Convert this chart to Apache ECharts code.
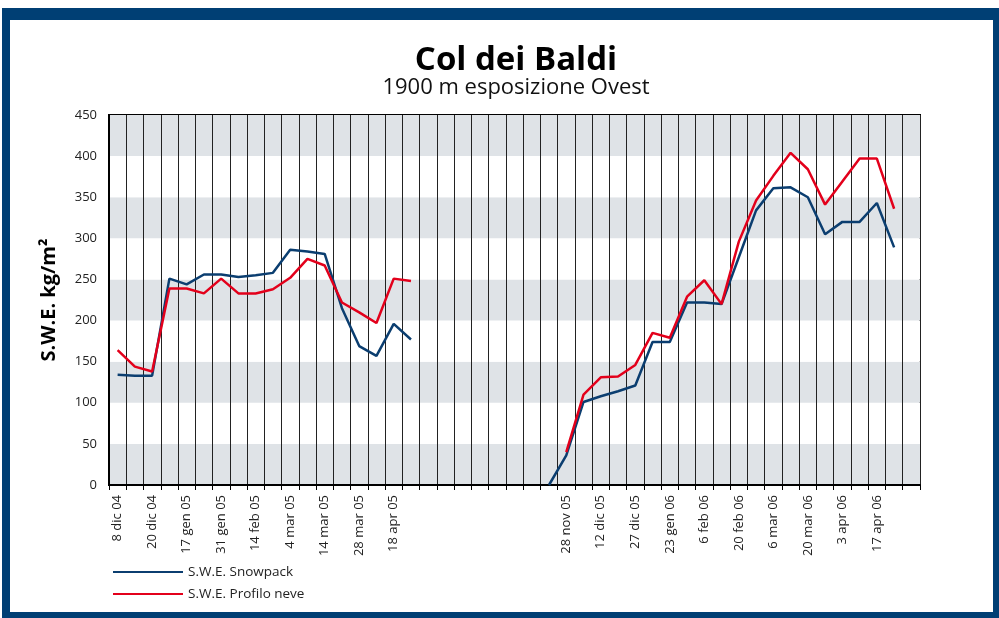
<!DOCTYPE html>
<html>
<head>
<meta charset="utf-8">
<script src="https://cdn.jsdelivr.net/npm/echarts@6/dist/echarts.min.js"></script>
<style>
  html, body { margin: 0; padding: 0; background: #fff; }
  #chart { width: 999px; height: 618px; }
</style>
</head>
<body>
<div id="chart"></div>
<script>
// etichette asse x (una ogni due rilievi)
const dateLabels = [
  '8 dic 04', '', '20 dic 04', '', '17 gen 05', '', '31 gen 05', '', '14 feb 05', '',
  '4 mar 05', '', '14 mar 05', '', '28 mar 05', '', '18 apr 05', '', '', '',
  '', '', '', '', '', '', '28 nov 05', '', '12 dic 05', '',
  '27 dic 05', '', '23 gen 06', '', '6 feb 06', '', '20 feb 06', '', '6 mar 06', '',
  '20 mar 06', '', '3 apr 06', '', '17 apr 06', '', ''
]

const sweSnowpack = [
  134, 133, 133, 251, 244, 256, 256, 253, 255, 258,
  286, 284, 281, 215, 169, 157, 196, 177, null, null,
  null, null, null, null, null, 0, 36, 101, 108, 114,
  121, 174, 174, 222, 222, 220, 277, 334, 361, 362,
  350, 305, 320, 320, 343, 289, null
]

const sweProfilo = [
  164, 144, 138, 239, 239, 233, 251, 233, 233, 238,
  252, 275, 267, 222, 210, 197, 251, 248, null, null,
  null, null, null, null, null, null, 40, 110, 131, 132,
  146, 185, 179, 229, 249, 220, 296, 346, 376, 404,
  384, 341, 369, 397, 397, 336, null
]

const yTicks = { min: 0, max: 450, interval: 50 }

const chart = echarts.init(document.getElementById('chart'))

const option = {
  backgroundColor: '#fff',
  animation: false,
  title: {
    text: 'Col dei Baldi',
    subtext: '1900 m esposizione Ovest',
    left: 511,
    top: 39,
    textAlign: 'center',
    itemGap: 0,
    textStyle: {
      fontFamily: 'Open Sans',
      fontSize: 33,
      fontWeight: 'bold',
      color: '#000'
    },
    subtextStyle: {
      fontFamily: 'Open Sans',
      fontSize: 22,
      color: '#111'
    }
  },
  // cornice blu
  graphic: [
    { type: 'rect', shape: { x: 2, y: 8, width: 997, height: 12 }, style: { fill: '#003f74' } },
    { type: 'rect', shape: { x: 2, y: 8, width: 8, height: 610 }, style: { fill: '#003f74' } },
    { type: 'rect', shape: { x: 993, y: 8, width: 6, height: 610 }, style: { fill: '#003f74' } },
    { type: 'rect', shape: { x: 2, y: 612, width: 997, height: 6 }, style: { fill: '#003f74' } }
  ],
  legend: {
    orient: 'vertical',
    left: 108,
    top: 560,
    itemWidth: 70,
    itemHeight: 10,
    itemGap: 8,
    textStyle: { fontFamily: 'Open Sans', fontSize: 13.5, color: '#222' },
    data: [
      { name: 'S.W.E. Snowpack', icon: 'path://M0,4 L70,4 L70,6 L0,6 Z' },
      { name: 'S.W.E. Profilo neve', icon: 'path://M0,4 L70,4 L70,6 L0,6 Z' }
    ]
  },
  grid: {
    left: 109,
    right: 79,
    top: 115,
    bottom: 133,
    show: true,
    borderColor: '#000',
    borderWidth: 2,
    backgroundColor: 'transparent'
  },
  xAxis: {
    type: 'category',
    data: dateLabels,
    boundaryGap: true,
    axisLine: { lineStyle: { color: '#000', width: 2 } },
    axisTick: { show: true, interval: 0, length: 5, lineStyle: { color: '#000' } },
    axisLabel: {
      interval: 0,
      rotate: 90,
      margin: 10,
      fontFamily: 'Open Sans',
      fontSize: 13,
      color: '#222'
    },
    splitLine: { show: true, interval: 0, lineStyle: { color: '#222', width: 1 } }
  },
  yAxis: {
    type: 'value',
    min: yTicks.min,
    max: yTicks.max,
    interval: yTicks.interval,
    name: 'S.W.E. kg/m²',
    nameLocation: 'middle',
    nameGap: 50,
    nameTextStyle: { fontFamily: 'Open Sans', fontSize: 20, fontWeight: 'bold', color: '#000' },
    axisLine: { show: true, lineStyle: { color: '#000', width: 2 } },
    axisTick: { show: false },
    axisLabel: { margin: 12, fontFamily: 'Open Sans', fontSize: 13, color: '#222' },
    splitLine: { show: false },
    splitArea: { show: true, areaStyle: { color: ['#dfe3e7', '#ffffff'] } }
  },
  series: [
    {
      name: 'S.W.E. Snowpack',
      type: 'line',
      data: sweSnowpack,
      symbol: 'none',
      connectNulls: false,
      itemStyle: { color: '#0b3e70' },
      lineStyle: { color: '#0b3e70', width: 2.5 }
    },
    {
      name: 'S.W.E. Profilo neve',
      type: 'line',
      data: sweProfilo,
      symbol: 'none',
      connectNulls: false,
      itemStyle: { color: '#e3001b' },
      lineStyle: { color: '#e3001b', width: 2.5 }
    }
  ]
}

chart.setOption(option)
</script>
</body>
</html>
